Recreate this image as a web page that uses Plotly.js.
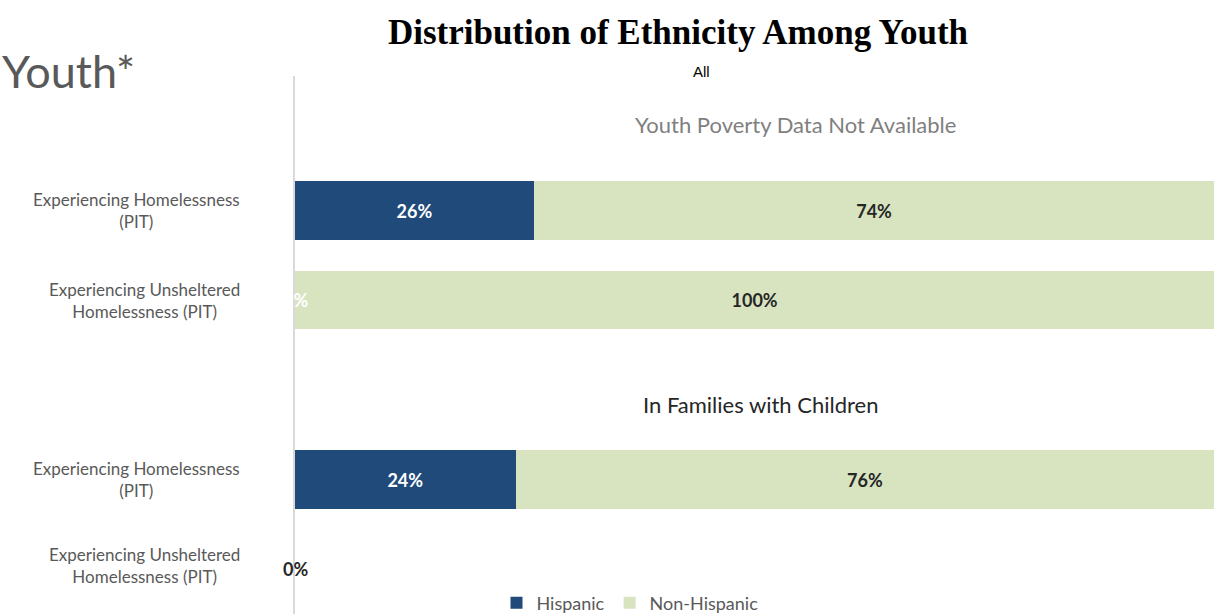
<!DOCTYPE html>
<html>
<head>
<meta charset="utf-8">
<script src="https://cdn.plot.ly/plotly-3.0.1.min.js"></script>
<style>html,body{margin:0;padding:0;background:#fff;}#chart{width:1218px;height:614px;}</style>
</head>
<body>
<div id="chart"></div>
<script>
// ---- data ----
const categories = [
  'All: Youth Poverty',
  'All: Experiencing Homelessness (PIT)',
  'All: Experiencing Unsheltered Homelessness (PIT)',
  'Families: header',
  'Families: Experiencing Homelessness (PIT)',
  'Families: Experiencing Unsheltered Homelessness (PIT)'
];
const tickLabels = [
  '',
  'Experiencing Homelessness<br>(PIT)',
  'Experiencing Unsheltered<br>Homelessness (PIT)',
  '',
  'Experiencing Homelessness<br>(PIT)',
  'Experiencing Unsheltered<br>Homelessness (PIT)'
];
const hispanic    = [null, 26, 0, null, 24, 0];
const nonHispanic = [null, 74, 100, null, 76, 0];
const seriesNames = ['Hispanic', 'Non-Hispanic'];

const colHisp = '#1f4a7a';
const colNon = '#d8e4c0';
const lbl = v => (v === null || v === 0) ? '' : v + '%';

const traces = [
  {
    type: 'bar', orientation: 'h', name: seriesNames[0],
    y: categories, x: hispanic, marker: {color: colHisp},
    text: hispanic.map(lbl), textposition: 'inside', insidetextanchor: 'middle',
    textfont: {family: 'Lato', size: 18, color: '#ffffff', weight: 700},
    width: 0.65, hoverinfo: 'x+name'
  },
  {
    type: 'bar', orientation: 'h', name: seriesNames[1],
    y: categories, x: nonHispanic, marker: {color: colNon},
    text: nonHispanic.map(lbl), textposition: 'inside', insidetextanchor: 'middle',
    textfont: {family: 'Lato', size: 18, color: '#262626', weight: 700},
    width: 0.65, hoverinfo: 'x+name'
  }
];

const W = 1218, H = 614, mL = 295, mT = 76, mR = 0, mB = 0;
const pw = W - mL - mR;
const px = x => (x - mL) / pw;      // container px -> paper x
const py = y => (H - mB - y) / (H - mT - mB); // container px -> paper y

const annotations = [
  {xref: 'paper', yref: 'paper', x: px(0), y: py(71), xanchor: 'left', yanchor: 'middle',
   text: 'Youth*', showarrow: false, font: {family: 'Lato', size: 45, color: '#595959'}},
  {xref: 'paper', yref: 'paper', x: px(701), y: py(71), xanchor: 'center', yanchor: 'middle',
   text: 'All', showarrow: false, font: {family: 'Liberation Sans', size: 15, color: '#000000'}},
  {xref: 'paper', yref: 'y', x: px(795), y: categories[0], xanchor: 'center', yanchor: 'middle', yshift: -4,
   text: 'Youth Poverty Data Not Available', showarrow: false, font: {family: 'Lato', size: 22, color: '#7f7f7f'}},
  {xref: 'paper', yref: 'y', x: px(760), y: categories[3], xanchor: 'center', yanchor: 'middle', yshift: -15,
   text: 'In Families with Children', showarrow: false, font: {family: 'Lato', size: 22, color: '#262626'}}
];
// category labels, centred two-line text like the original
tickLabels.forEach((t, i) => {
  if (!t) return;
  annotations.push({
    xref: 'paper', yref: 'y', x: px(242), y: categories[i], xanchor: 'right', yanchor: 'middle',
    align: 'center', text: t, showarrow: false, yshift: i === 5 ? 4 : 0,
    font: {family: 'Lato', size: 17, color: '#595959'}
  });
});
// zero-value labels for Hispanic
hispanic.forEach((v, i) => {
  if (v === 0) {
    const behind = nonHispanic[i] > 0;
    annotations.push({
      xref: 'x', yref: 'y', x: 0, y: categories[i], xanchor: 'center',
      text: '<b>0%</b>', showarrow: false,
      font: {family: 'Lato', size: 18, color: behind ? '#ffffff' : '#262626'}
    });
  }
});

const layout = {
  width: W, height: H,
  margin: {l: mL, r: mR, t: mT, b: mB, pad: 0, autoexpand: false},
  paper_bgcolor: '#ffffff', plot_bgcolor: '#ffffff',
  barmode: 'stack', bargap: 0.35,
  title: {text: '<b>Distribution of Ethnicity Among Youth</b>', x: 678 / W, xanchor: 'center',
          xref: 'container', yref: 'container', y: 1 - 32 / H, yanchor: 'middle',
          font: {family: 'Liberation Serif', size: 35, color: '#000000'}},
  xaxis: {range: [0, 100.4], visible: false, showgrid: false, zeroline: false, fixedrange: true},
  yaxis: {type: 'category', categoryorder: 'array', categoryarray: categories,
          autorange: 'reversed', showticklabels: false,
          showline: true, linecolor: '#d9d9d9', linewidth: 2, showgrid: false, zeroline: false,
          ticks: ''},
  showlegend: true,
  legend: {orientation: 'h', x: px(630), xanchor: 'center', y: py(603), yanchor: 'middle',
           font: {family: 'Lato', size: 18, color: '#595959'}, bgcolor: 'rgba(0,0,0,0)',
           itemwidth: 30, traceorder: 'normal'},
  annotations: annotations
};

Plotly.newPlot('chart', traces, layout, {displayModeBar: false, staticPlot: true});
</script>
</body>
</html>
